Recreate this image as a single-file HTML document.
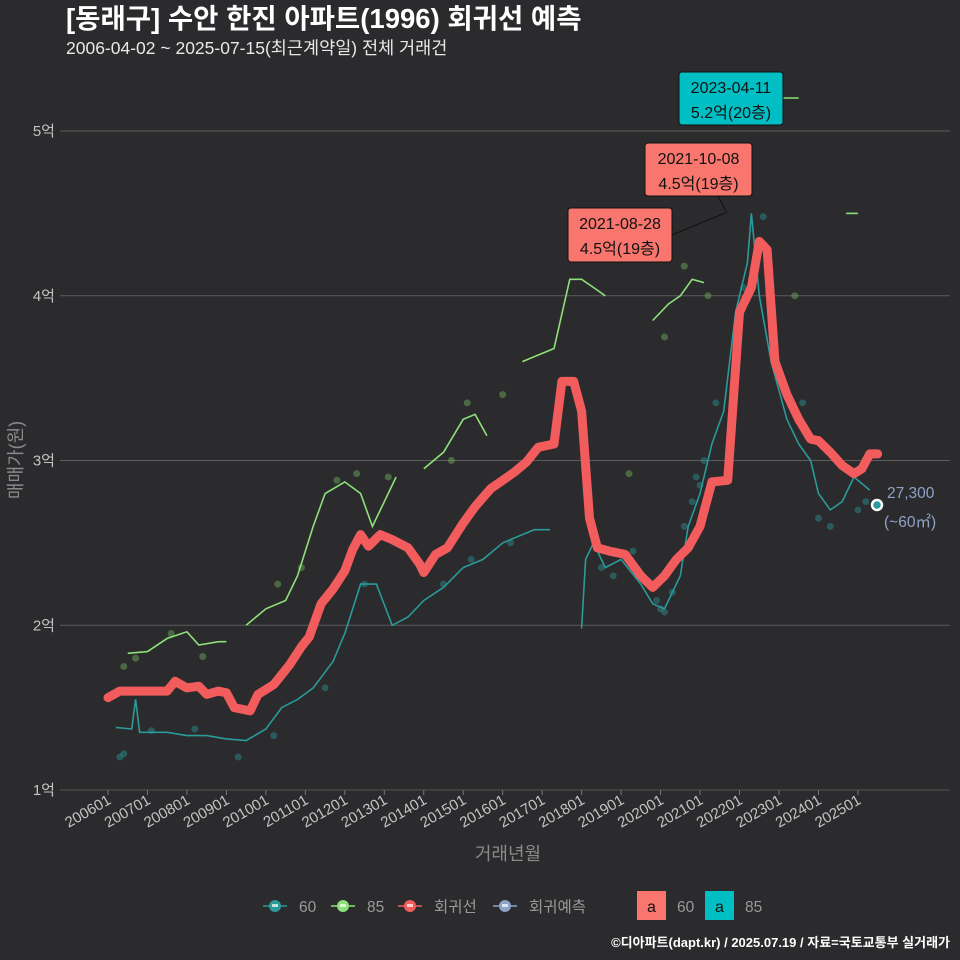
<!DOCTYPE html>
<html><head><meta charset="utf-8">
<style>
body{margin:0;background:#2b2a2c;}
svg{display:block;font-family:"Liberation Sans","Noto Sans CJK KR",sans-serif;}
</style></head>
<body>
<svg id="c" width="960" height="960" viewBox="0 0 960 960">
<rect width="960" height="960" fill="#2b2a2c"/>
<text x="66" y="28" font-size="27.5" font-weight="bold" fill="#ffffff">[동래구] 수안 한진 아파트(1996) 회귀선 예측</text>
<text x="66" y="54" font-size="17.5" fill="#e8e8e8">2006-04-02 ~ 2025-07-15(최근계약일) 전체 거래건</text>
<g id="grid"></g>
<g id="marks"></g>
<g id="ann"></g>
<text x="22" y="460" font-size="18" fill="#8a8a8a" text-anchor="middle" transform="rotate(-90 22 460)">매매가(원)</text>
<text x="508" y="860" font-size="18" fill="#8a8a8a" text-anchor="middle">거래년월</text>
<g id="legend"></g>
<text x="950" y="947" font-size="13" font-weight="bold" fill="#ffffff" text-anchor="end">©디아파트(dapt.kr) / 2025.07.19 / 자료=국토교통부 실거래가</text>
</svg>
<script>
// data (time in decimal years, price in 억)
const yTicks=[1,2,3,4,5];
const yTickLabels=["1억","2억","3억","4억","5억"];
const xTicks=[2006,2007,2008,2009,2010,2011,2012,2013,2014,2015,2016,2017,2018,2019,2020,2021,2022,2023,2024,2025];
const xTickLabels=["200601","200701","200801","200901","201001","201101","201201","201301","201401","201501","201601","201701","201801","201901","202001","202101","202201","202301","202401","202501"];
const regT=[2006.0,2006.3,2007.0,2007.5,2007.7,2008.0,2008.3,2008.5,2008.8,2009.0,2009.2,2009.6,2009.8,2010.2,2010.6,2010.9,2011.1,2011.4,2011.7,2012.0,2012.2,2012.4,2012.6,2012.9,2013.2,2013.6,2013.9,2014.0,2014.3,2014.6,2015.0,2015.3,2015.7,2016.0,2016.3,2016.6,2016.9,2017.3,2017.5,2017.8,2018.0,2018.2,2018.4,2018.7,2019.1,2019.5,2019.8,2020.1,2020.4,2020.7,2021.0,2021.3,2021.7,2022.0,2022.3,2022.5,2022.7,2022.9,2023.2,2023.5,2023.8,2024.0,2024.3,2024.6,2024.9,2025.1,2025.3,2025.5];
const regV=[1.56,1.60,1.60,1.60,1.66,1.62,1.63,1.58,1.60,1.59,1.50,1.48,1.58,1.64,1.76,1.87,1.93,2.13,2.22,2.33,2.46,2.55,2.48,2.55,2.52,2.47,2.37,2.32,2.43,2.47,2.62,2.72,2.83,2.88,2.93,2.99,3.08,3.10,3.48,3.48,3.30,2.65,2.47,2.45,2.43,2.30,2.23,2.30,2.40,2.47,2.60,2.87,2.88,3.90,4.05,4.33,4.28,3.60,3.40,3.25,3.13,3.12,3.05,2.97,2.92,2.95,3.04,3.04];
const s60T=[[2006.2,2006.6,2006.7,2006.8,2007.5,2008,2008.5,2009,2009.5,2010.0,2010.4,2010.8,2011.2,2011.7,2012.0,2012.4,2012.8,2013.2,2013.6,2014.0,2014.5,2015.0,2015.5,2016.0,2016.5,2016.8,2017.2],[2018.0,2018.1,2018.3,2018.6,2019.0,2019.5,2019.8,2020.1,2020.5,2020.7,2021.0,2021.3,2021.6,2021.9,2022.2,2022.3,2022.5,2022.8,2023.2,2023.5,2023.8,2024.0,2024.3,2024.6,2024.9,2025.3]];
const s60V=[[1.38,1.37,1.55,1.35,1.35,1.33,1.33,1.31,1.30,1.37,1.50,1.55,1.62,1.78,1.95,2.25,2.25,2.00,2.05,2.15,2.23,2.35,2.40,2.50,2.55,2.58,2.58],[1.98,2.40,2.50,2.35,2.40,2.25,2.13,2.10,2.30,2.60,2.80,3.10,3.30,3.90,4.20,4.50,4.00,3.60,3.25,3.10,3.00,2.80,2.70,2.75,2.90,2.82]];
const s85T=[[2006.5,2007.0,2007.5,2008.0,2008.3,2008.8,2009.0],[2009.5,2010.0,2010.5,2010.8,2011.2,2011.5,2012.0,2012.4,2012.7,2013.0,2013.3],[2014.0,2014.5,2015.0,2015.3,2015.6],[2016.5,2017.0,2017.3,2017.7,2018.0,2018.3,2018.6],[2019.8,2020.2,2020.5,2020.8,2021.1],[2023.0,2023.5],[2024.7,2025.0]];
const s85V=[[1.83,1.84,1.92,1.96,1.88,1.90,1.90],[2.00,2.10,2.15,2.30,2.60,2.80,2.87,2.80,2.60,2.75,2.90],[2.95,3.05,3.25,3.28,3.15],[3.60,3.65,3.68,4.10,4.10,4.05,4.00],[3.85,3.95,4.00,4.10,4.08],[5.20,5.20],[4.50,4.50]];
const pt60T=[2006.3,2006.4,2007.1,2008.2,2009.3,2010.2,2011.5,2012.5,2014.5,2015.2,2016.2,2018.5,2018.8,2019.3,2019.9,2020.0,2020.1,2020.3,2020.6,2020.8,2020.9,2021.0,2021.1,2021.4,2022.1,2022.6,2023.6,2024.0,2024.3,2025.0,2025.2];
const pt60V=[1.20,1.22,1.36,1.37,1.20,1.33,1.62,2.25,2.25,2.40,2.50,2.35,2.30,2.45,2.15,2.10,2.08,2.20,2.60,2.75,2.90,2.85,3.00,3.35,4.05,4.48,3.35,2.65,2.60,2.70,2.75];
const pt85T=[2006.4,2006.7,2007.6,2008.4,2010.3,2010.9,2011.8,2012.3,2013.1,2014.7,2015.1,2016.0,2019.2,2020.1,2020.6,2021.2,2023.4];
const pt85V=[1.75,1.80,1.95,1.81,2.25,2.35,2.88,2.92,2.90,3.00,3.35,3.40,2.92,3.75,4.18,4.00,4.00];

const X=t=>108+(t-2006)*39.47;
const Y=v=>790-(v-1)*164.75;
const NS="http://www.w3.org/2000/svg";
function mk(tag,attrs,parent){const e=document.createElementNS(NS,tag);for(const k in attrs)e.setAttribute(k,attrs[k]);parent.appendChild(e);return e;}
const grid=document.getElementById('grid'),marks=document.getElementById('marks'),ann=document.getElementById('ann'),leg=document.getElementById('legend');

yTicks.forEach((v,i)=>{
 const l=mk('line',{x1:60,x2:950,y1:Y(v),y2:Y(v),stroke:i==0?'#555':'#5d5d5d','stroke-width':1},grid);
 
 
 const t=mk('text',{x:55,y:Y(v)+5,'font-size':15,fill:'#c4c4c4','text-anchor':'end'},grid);t.textContent=yTickLabels[i];
 
 
});
xTicks.forEach((tv,i)=>{
 const x=X(tv);
 const tk=mk('line',{x1:x,x2:x,y1:790,y2:795,stroke:'#777'},grid);
 
 
 const t=mk('text',{x:x+4,y:803,'font-size':15,fill:'#c4c4c4','text-anchor':'end',transform:`rotate(-30 ${x+4} 803)`},grid);t.textContent=xTickLabels[i];
 
 
});
function path(T,V){return T.map((t,i)=>(i?'L':'M')+X(t).toFixed(1)+','+Y(V[i]).toFixed(1)).join('');}
pt60T.forEach((t,i)=>{const c=mk('circle',{cx:X(t),cy:Y(pt60V[i]),r:3.5,fill:'#2a8a8a','fill-opacity':0.5},marks);
 
 });
pt85T.forEach((t,i)=>{const c=mk('circle',{cx:X(t),cy:Y(pt85V[i]),r:3.5,fill:'#6aa85a','fill-opacity':0.5},marks);
 
 });
s60T.forEach((T,k)=>{const p=mk('path',{d:path(T,s60V[k]),fill:'none',stroke:'#2a9a9a','stroke-width':1.6},marks);
 
 });
s85T.forEach((T,k)=>{const p=mk('path',{d:path(T,s85V[k]),fill:'none',stroke:'#8ee07a','stroke-width':1.6},marks);
 
 });
const rp=mk('path',{d:path(regT,regV),fill:'none',stroke:'#f25c5c','stroke-width':9,'stroke-linejoin':'round','stroke-linecap':'round'},marks);



const em=mk('circle',{cx:877,cy:505,r:5,fill:'#2a9a9a',stroke:'#fff','stroke-width':2.5},ann);


const el1=mk('text',{x:887,y:498,'font-size':15.5,fill:'#8fa3c9'},ann);el1.textContent='27,300';


const el2=mk('text',{x:884,y:527,'font-size':15.5,fill:'#8fa3c9'},ann);el2.textContent='(~60㎡)';



const boxes=[[568,208,104,54,'#f8766d','2021-08-28','4.5억(19층)'],[645,143,107,53,'#f8766d','2021-10-08','4.5억(19층)'],[679,72,104,53,'#00bfc4','2023-04-11','5.2억(20층)']];
mk('line',{x1:672,y1:235,x2:725,y2:213,stroke:'#111','stroke-width':1},ann);
mk('line',{x1:718,y1:196,x2:727,y2:213,stroke:'#111','stroke-width':1},ann);
boxes.forEach(b=>{
 const r=mk('rect',{x:b[0],y:b[1],width:b[2],height:b[3],rx:3,fill:b[4],stroke:'#111'},ann);
 
 
 const t1=mk('text',{x:b[0]+b[2]/2,y:b[1]+21,'font-size':16,fill:'#111','text-anchor':'middle'},ann);t1.textContent=b[5];
 
 
 const t2=mk('text',{x:b[0]+b[2]/2,y:b[1]+46,'font-size':16,fill:'#111','text-anchor':'middle'},ann);t2.textContent=b[6];
 
 
});

const li=[[275,'#2a9a9a','60'],[343,'#8ee07a','85'],[410,'#f25c5c','회귀선'],[505,'#8fa3c9','회귀예측']];
li.forEach(l=>{
 const g=mk('g',{},leg);
 
 
 mk('line',{x1:l[0]-12,x2:l[0]+12,y1:906,y2:906,stroke:l[1],'stroke-width':1.5},g);
 mk('circle',{cx:l[0],cy:906,r:6,fill:l[1]},g);
 mk('rect',{x:l[0]-3,y:904,width:6,height:3,fill:'#fff','fill-opacity':0.7},g);
 const t=mk('text',{x:l[0]+24,y:912,'font-size':15.5,fill:'#9a9a9a'},g);t.textContent=l[2];
});
[[637,'#f8766d','60'],[705,'#00bfc4','85']].forEach(l=>{
 const g=mk('g',{},leg);
 
 
 mk('rect',{x:l[0],y:891,width:29,height:29,fill:l[1]},g);
 const a=mk('text',{x:l[0]+14.5,y:912,'font-size':16,fill:'#111','text-anchor':'middle'},g);a.textContent='a';
 const t=mk('text',{x:l[0]+40,y:912,'font-size':15.5,fill:'#9a9a9a'},g);t.textContent=l[2];
});
</script>
</body></html>
